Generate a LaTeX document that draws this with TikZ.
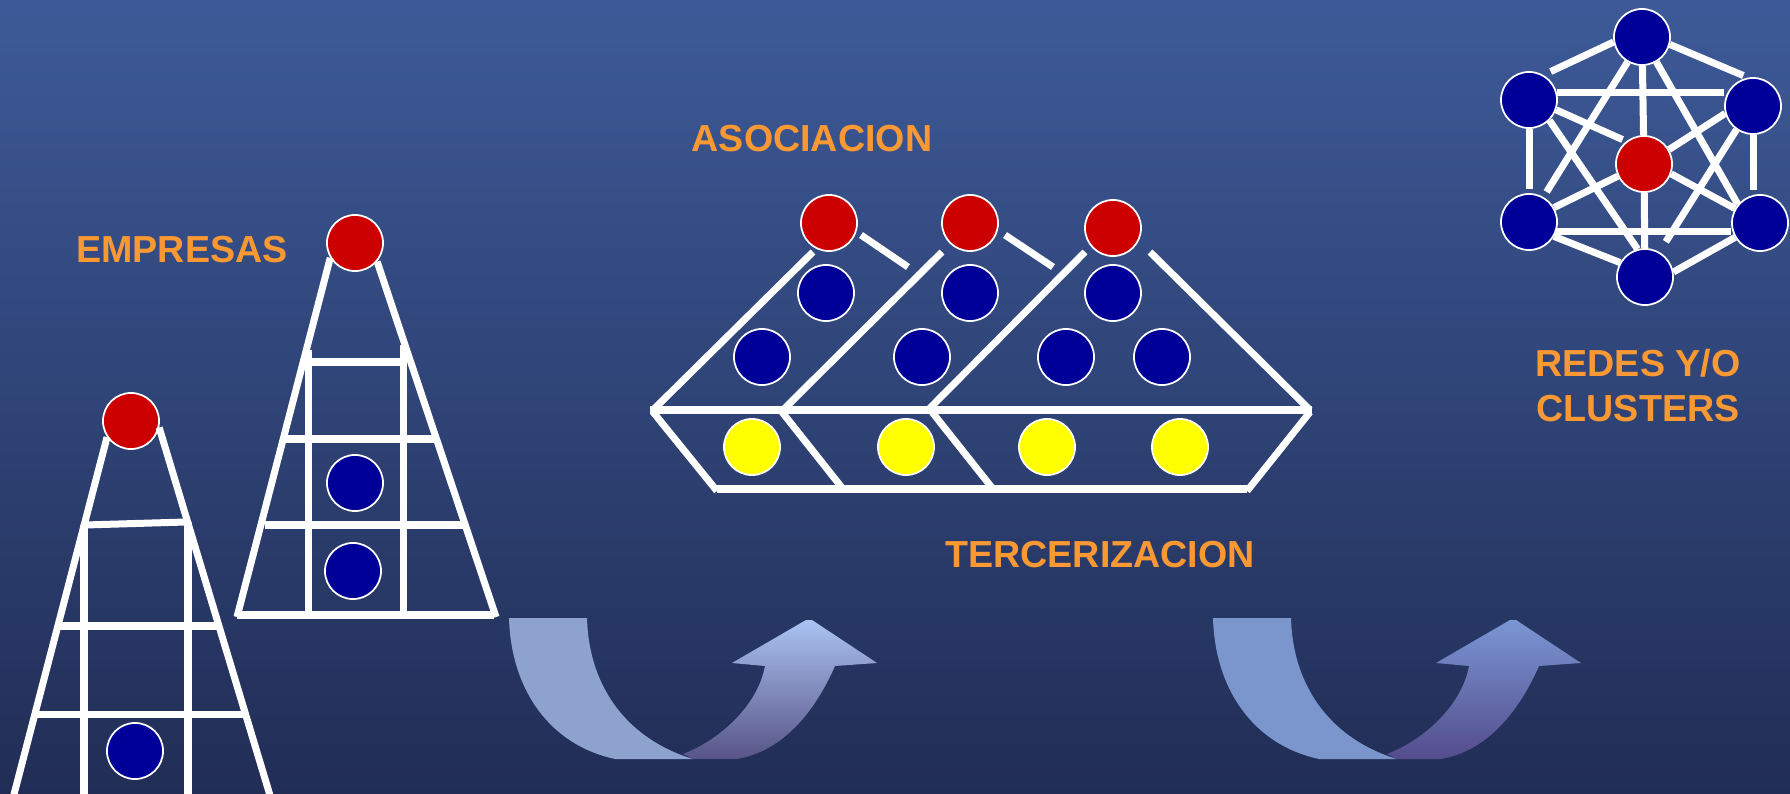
\documentclass[tikz,border=0pt]{standalone}
\usepackage{fontspec}
\usepackage{xcolor}
\usepackage{tikz}
\usetikzlibrary{calc}
\newfontfamily\labfont{Liberation Sans}
\definecolor{bgtop}{RGB}{61,90,152}
\definecolor{bgbot}{RGB}{33,45,85}
\definecolor{nred}{RGB}{204,0,0}
\definecolor{nblue}{RGB}{0,0,153}
\definecolor{nyellow}{RGB}{255,255,0}
\definecolor{lblorange}{RGB}{250,153,51}
\definecolor{arrAl}{RGB}{141,162,205}
\definecolor{arrAt}{RGB}{170,195,242}
\definecolor{arrAb}{RGB}{88,84,135}
\definecolor{arrBl}{RGB}{122,150,205}
\definecolor{arrBt}{RGB}{122,150,212}
\definecolor{arrBb}{RGB}{84,76,140}
\tikzset{
    ball/.style = {circle, draw=white, line width=0.5pt, minimum size=0.56cm, inner sep=0pt},
    rnode/.style = {ball, fill=nred},
    bnode/.style = {ball, fill=nblue},
    ynode/.style = {ball, fill=nyellow},
    lbl/.style = {font=\labfont\bfseries\fontsize{10.7}{12.8}\selectfont, text=lblorange, align=center},
}

\begin{document}
\begin{tikzpicture}[x=0.01cm, y=-0.01cm]
\tikzset{
    edgew/.style = {-, line width=0.07cm, white},
}
\shade[top color=bgtop, bottom color=bgbot] (0,0) rectangle (1790,794);
\useasboundingbox (0,0) rectangle (1790,794);
% labels
\node[lbl] at (182,250) (empresas) {EMPRESAS};
\node[lbl] at (812,139) (asoc) {ASOCIACION};
\node[lbl] at (1100,555) (terc) {TERCERIZACION};
\node[lbl] at (1638,386) (redes) {REDES Y/O\\CLUSTERS};
%
% small company
\node[rnode] at (131,421) (r1) {};
\node[bnode] at (135,751) (b1) {};
\draw[edgew] (r1.214) -- (12,802);
\draw[edgew] (r1.347) -- (272,802);
\draw[edgew] (85,525) -- (186,522);
\draw[edgew] (84,525) -- (84,800);
\draw[edgew] (188,522) -- (188,800);
\draw[edgew] (58,626) -- (218,626);
\draw[edgew] (35,714) -- (245,714);
%
% big company
\node[rnode] at (355,243) (r2) {};
\node[bnode] at (355,483) (b2) {};
\node[bnode] at (353,571) (b3) {};
\draw[edgew] (r2.211) -- (237,617);
\draw[edgew] (r2.320) -- (496,617);
\draw[edgew] (237,615) -- (494,615);
\draw[edgew] (308,350) -- (308,615);
\draw[edgew] (403,345) -- (403,615);
\draw[edgew] (304,362) -- (407,362);
\draw[edgew] (281,439) -- (435,439);
\draw[edgew] (265,525) -- (464,525);
%
% asociacion
\node[rnode] at (829,223) (m1) {};
\node[rnode] at (970,223) (m2) {};
\node[rnode] at (1113,228) (m3) {};
\node[bnode] at (826,293) (a1) {};
\node[bnode] at (970,293) (a2) {};
\node[bnode] at (1113,293) (a3) {};
\node[bnode] at (762,357) (a4) {};
\node[bnode] at (922,357) (a5) {};
\node[bnode] at (1066,357) (a6) {};
\node[bnode] at (1162,357) (a7) {};
\node[ynode] at (752,447) (t1) {};
\node[ynode] at (906,447) (t2) {};
\node[ynode] at (1047,447) (t3) {};
\node[ynode] at (1180,447) (t4) {};
\draw[edgew] (861,235) -- (908,267);
\draw[edgew] (1005,235) -- (1053,267);
\draw[edgew] (813,252) -- (653,410);
\draw[edgew] (942,252) -- (783,410);
\draw[edgew] (1085,252) -- (928,410);
\draw[edgew] (1150,252) -- (1310,410);
\draw[edgew] (650,410) -- (1312,410);
%
\draw[edgew] (653,412) -- (717,491);
\draw[edgew] (782,412) -- (843,489);
\draw[edgew] (932,412) -- (993,489);
\draw[edgew] (1310,412) -- (1247,491);
\draw[edgew] (717,489) -- (1247,489);
%
% redes / clusters
\node[bnode] at (1642,37) (c0) {};
\node[bnode] at (1529,100) (c1) {};
\node[bnode] at (1753,106) (c2) {};
\node[rnode] at (1644,164) (cc) {};
\node[bnode] at (1529,222) (c3) {};
\node[bnode] at (1760,223) (c4) {};
\node[bnode] at (1645,277) (c5) {};
\draw[edgew, shorten >=0.08cm] (c0.190) -- (c1.60);
\draw[edgew, shorten >=0.05cm] (c0.-15) -- (c2.100);
\draw[edgew] (c1.15) -- (c1.15 -| c2.west);
\draw[edgew, shorten >=0.04cm] (c1) -- (c3);
\draw[edgew, shorten >=0.04cm] (c2.south) -- (c2.south |- c4.north);
\draw[edgew] (c3.-20) -- (c3.-20 -| c4.west);
\draw[edgew] (c3.-30) -- (c5.150);
\draw[edgew] (c5.10) -- (c4.210);
\draw[edgew] (c0) -- (cc);
\draw[edgew] (cc) -- (c5);
\draw[edgew, shorten >=0.04cm] (c1.-20) -- (cc.128);
\draw[edgew] (c2.195) -- (cc.30);
\draw[edgew] (c3.30) -- (cc.205);
\draw[edgew] (cc.-20) -- (c4.150);
\draw[edgew, shorten >=0.06cm] (c0.240) -- (c3.60);
\draw[edgew] (c0.300) -- (c4.140);
\draw[edgew] (c1.-45) -- (c5.105);
\draw[edgew, shorten >=0.12cm] (c2.235) -- (c5.60);
%
% curved arrows
\foreach \dx/\cl/\ct/\cb in {0/arrAl/arrAt/arrAb, 704/arrBl/arrBt/arrBb}{
\begin{scope}[shift={(\dx,0)}]
\fill[\cl] (509,618) .. controls (511,690) and (550,745) .. (615,759) -- (693,759)
    .. controls (630,740) and (589,690) .. (587,618) -- cycle;
\shade[top color=\ct, bottom color=\cb] (683,754) -- (693,759) -- (737,759)
    .. controls (790,750) and (820,700) .. (835,666)
    -- (877,663) -- (812,620) -- (806,620) -- (732,663) -- (765,666)
    .. controls (758,705) and (720,740) .. (683,754) -- cycle;
\end{scope}
}
\end{tikzpicture}
\end{document}
